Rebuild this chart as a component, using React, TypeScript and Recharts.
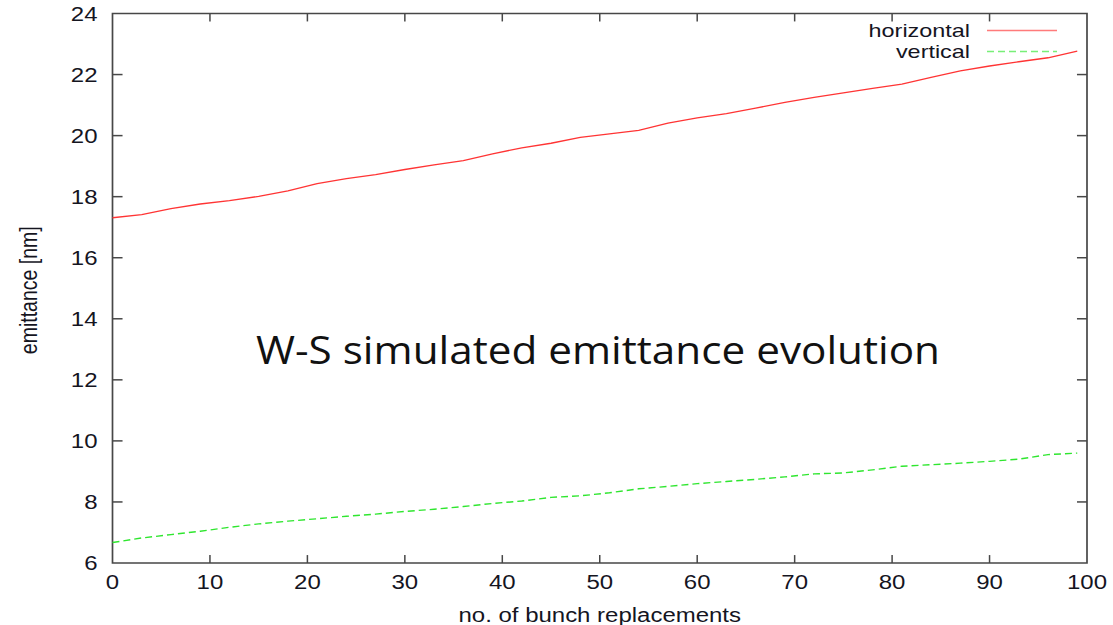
import { LineChart, Line, XAxis, YAxis, ReferenceLine, ReferenceArea, Legend } from "recharts";

// bunch replacement index (sampled every 3)
const replacements = [
  0, 3, 6, 9, 12, 15, 18, 21, 24, 27, 30, 33, 36, 39, 42, 45, 48,
  51, 54, 57, 60, 63, 66, 69, 72, 75, 78, 81, 84, 87, 90, 93, 96, 99,
];

// emittance in nm
const horizontal = [
  17.31, 17.41, 17.61, 17.76, 17.87, 18.01, 18.19, 18.43, 18.59, 18.72, 18.89, 19.04,
  19.18, 19.4, 19.6, 19.75, 19.94, 20.06, 20.17, 20.41, 20.58, 20.72, 20.9, 21.09,
  21.25, 21.4, 21.55, 21.69, 21.91, 22.12, 22.28, 22.42, 22.55, 22.77,
];
const vertical = [
  6.67, 6.82, 6.93, 7.04, 7.17, 7.28, 7.37, 7.45, 7.53, 7.6, 7.69, 7.76,
  7.85, 7.95, 8.03, 8.15, 8.2, 8.3, 8.43, 8.51, 8.6, 8.67, 8.74, 8.82,
  8.92, 8.95, 9.05, 9.17, 9.22, 9.27, 9.33, 9.4, 9.55, 9.6,
];

const xTicks = [0, 10, 20, 30, 40, 50, 60, 70, 80, 90, 100];
const yTicks = [6, 8, 10, 12, 14, 16, 18, 20, 22, 24];

const data = replacements.map((n, i) => ({
  n,
  horizontal: horizontal[i],
  vertical: vertical[i],
}));

const FONT = "'Liberation Sans', Arial, Helvetica, sans-serif";
const INK = "#15151f";
const FRAME = "#474747";
const STRETCH = 1.23; // gnuplot text comes out wide
const FS = 19.5;
const LEGEND_FS = 18;
const RED = "#ff3434";
const GREEN = "#2fe62f";

// inward tick lengths, in axis units
const Y_TICK_LEN = 1.03;
const X_TICK_LEN = 0.26;

function XTick({ x, y, payload }: any) {
  return (
    <g transform={`translate(${x},${y})`}>
      <text transform={`scale(${STRETCH},1)`} textAnchor="middle" dy="0.71em"
        fontSize={FS} fontFamily={FONT} fill={INK}>
        {payload.value}
      </text>
    </g>
  );
}

function YTick({ x, y, payload }: any) {
  return (
    <g transform={`translate(${x},${y})`}>
      <text transform={`scale(${STRETCH},1)`} textAnchor="end" dy="0.36em"
        fontSize={FS} fontFamily={FONT} fill={INK}>
        {payload.value}
      </text>
    </g>
  );
}

function XLabel({ viewBox }: any) {
  const cx = viewBox.x + viewBox.width / 2;
  return (
    <g transform={`translate(${cx},${viewBox.y + 58.5})`}>
      <text transform={`scale(${STRETCH},1)`} textAnchor="middle" fontSize={FS}
        fontFamily={FONT} fill={INK}>
        no. of bunch replacements
      </text>
    </g>
  );
}

function YLabel({ viewBox }: any) {
  const cy = viewBox.y + viewBox.height / 2 + 2;
  return (
    <g transform={`translate(37,${cy}) rotate(-90) scale(1,${STRETCH})`}>
      <text textAnchor="middle" fontSize={FS} fontFamily={FONT} fill={INK}>
        emittance [nm]
      </text>
    </g>
  );
}

function LegendKey({ payload }: any) {
  return (
    <svg width={1113} height={70}
      style={{ position: "absolute", left: 0, top: 0, overflow: "visible" }}>
      {(payload || []).map((entry: any, i: number) => {
        const cy = 30.5 + i * 21;
        return (
          <g key={entry.value}>
            <g transform={`translate(970,${cy})`}>
              <text transform={`scale(1.3,1)`} textAnchor="end" dy="0.36em"
                fontSize={LEGEND_FS} fontFamily={FONT} fill={INK}>
                {entry.value}
              </text>
            </g>
            <line x1={987} x2={1057} y1={cy} y2={cy} stroke={entry.color}
              strokeWidth={1.4} strokeOpacity={0.65}
              strokeDasharray={entry.payload?.strokeDasharray} />
          </g>
        );
      })}
    </svg>
  );
}

export default function App() {
  return (
    <div style={{ position: "absolute", left: 0, top: 0, width: 1113, height: 625, background: "#fff" }}>
      <LineChart width={1113} height={625} data={data}
        margin={{ top: 13.5, right: 26, bottom: 0, left: 0 }}>
        <XAxis type="number" dataKey="n" domain={[0, 100]} ticks={xTicks}
          height={62} tickSize={0} tickMargin={12} tickLine={false} axisLine={false}
          tick={XTick} label={{ content: XLabel }} />
        <YAxis type="number" domain={[6, 24]} ticks={yTicks}
          width={112.5} tickSize={0} tickMargin={15} tickLine={false} axisLine={false}
          tick={YTick} label={{ content: YLabel }} />

        {/* gnuplot-style inward ticks on all four sides */}
        {yTicks.slice(1, -1).map((v) => (
          <ReferenceLine key={`yl${v}`} segment={[{ x: 0, y: v }, { x: Y_TICK_LEN, y: v }]}
            stroke={FRAME} strokeWidth={1.5} />
        ))}
        {yTicks.slice(1, -1).map((v) => (
          <ReferenceLine key={`yr${v}`} segment={[{ x: 100 - Y_TICK_LEN, y: v }, { x: 100, y: v }]}
            stroke={FRAME} strokeWidth={1.5} />
        ))}
        {xTicks.slice(1, -1).map((v) => (
          <ReferenceLine key={`xb${v}`} segment={[{ x: v, y: 6 }, { x: v, y: 6 + X_TICK_LEN }]}
            stroke={FRAME} strokeWidth={1.5} />
        ))}
        {xTicks.slice(1, -1).map((v) => (
          <ReferenceLine key={`xt${v}`} segment={[{ x: v, y: 24 - X_TICK_LEN }, { x: v, y: 24 }]}
            stroke={FRAME} strokeWidth={1.5} />
        ))}
        <ReferenceArea x1={0} x2={100} y1={6} y2={24} fill="none" fillOpacity={0}
          stroke={FRAME} strokeWidth={1.7} />

        <Legend verticalAlign="top" content={LegendKey}
          wrapperStyle={{ position: "absolute", left: 0, top: 0, width: 1113, height: 0, overflow: "visible" }} />

        <Line type="linear" dataKey="horizontal" name="horizontal" stroke={RED}
          strokeWidth={1.3} dot={false} isAnimationActive={false} />
        <Line type="linear" dataKey="vertical" name="vertical" stroke={GREEN}
          strokeWidth={1.4} strokeDasharray="7 4" dot={false} isAnimationActive={false} />
      </LineChart>

      <svg width={1113} height={625}
        style={{ position: "absolute", left: 0, top: 0, pointerEvents: "none" }}>
        <text x={256} y={364} fontSize={39} fontFamily="'Open Sans', 'Noto Sans', sans-serif"
          fill="#111" textLength={684} lengthAdjust="spacingAndGlyphs">
          W-S simulated emittance evolution
        </text>
      </svg>
    </div>
  );
}
